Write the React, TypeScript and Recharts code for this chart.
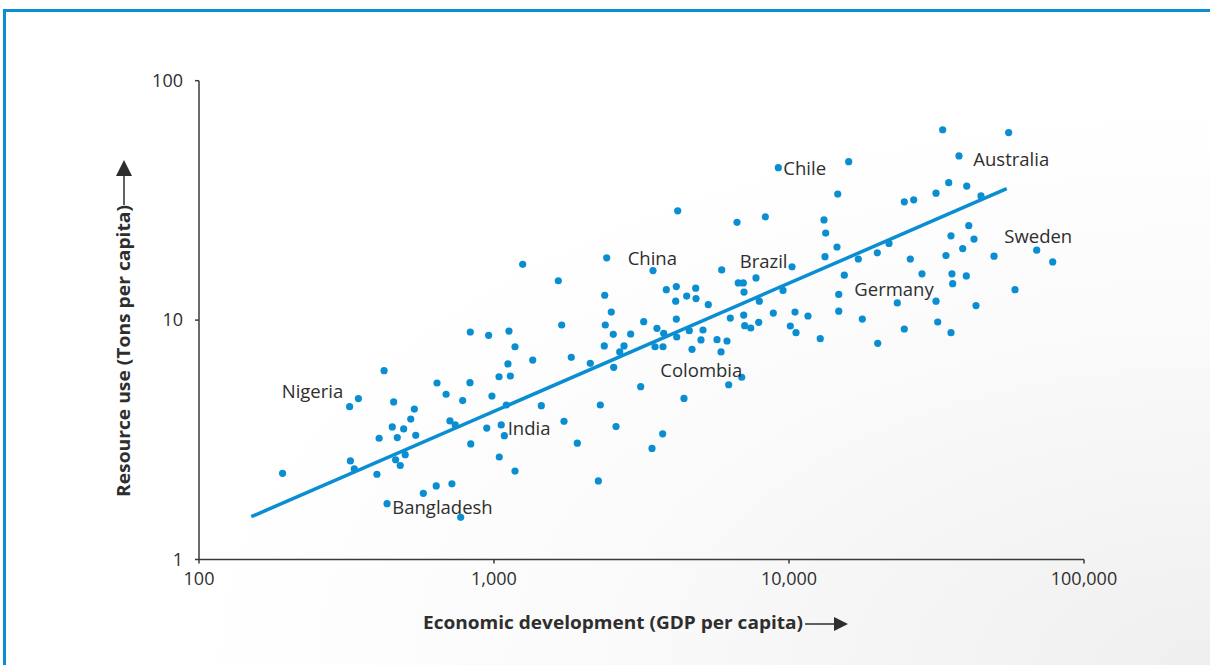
import React from "react";
import { ScatterChart, Scatter, XAxis, YAxis } from "recharts";

// GDP per capita (US$) of each country
const gdp: number[] = [
  192, 324, 347, 424, 326, 336, 401, 408, 457, 452,
  470, 494, 522, 537, 543, 464, 481, 500, 434, 576,
  637, 720, 771, 641, 688, 709, 739, 783, 829, 831,
  834, 959, 1124, 1178, 1115, 1040, 1136, 984, 1101, 945,
  1058, 1084, 1042, 1178, 1353, 1447, 1696, 1828, 1727, 1916,
  4195, 1251, 1652, 2410, 3459, 2373, 2498, 2384, 2537, 2365,
  2759, 2668, 2906, 3217, 3568, 3761, 3514, 3740, 3838, 4150,
  4499, 4828, 4839, 4130, 5326, 4150, 4163, 4592, 5110, 5031,
  4691, 5701, 6164, 5883, 5915, 6664, 8311, 6731, 7000, 7729,
  7039, 7931, 6324, 7021, 7076, 7418, 7895, 9544, 8847, 10237,
  10479, 10102, 10561, 11597, 12765, 14628, 13140, 13316, 13243, 14547,
  17177, 15397, 14743, 14743, 17722, 19922, 19985, 6914, 6246, 4406,
  3142, 2293, 2592, 3731, 3432, 2258, 2120, 2545, 9200, 15937,
  33189, 55541, 37691, 34783, 40036, 31505, 24594, 26468, 44754, 40671,
  35410, 42380, 38804, 34048, 49546, 69136, 78325, 25777, 21827, 28236,
  23287, 31505, 35680, 35877, 39905, 43047, 31928, 35410, 24594, 58353,
];

// Resource use (tons per capita) of each country
const resource: number[] = [
  2.29, 4.35, 4.70, 6.15, 2.58, 2.39, 2.27, 3.21, 4.55, 3.58,
  3.23, 3.51, 3.86, 4.25, 3.30, 2.61, 2.47, 2.74, 1.71, 1.89,
  2.03, 2.07, 1.50, 5.46, 4.90, 3.79, 3.65, 4.61, 5.48, 8.92,
  3.04, 8.64, 9.00, 7.74, 6.56, 5.80, 5.84, 4.82, 4.42, 3.54,
  3.65, 3.29, 2.68, 2.34, 6.81, 4.39, 9.54, 6.99, 3.78, 3.06,
  28.6, 17.1, 14.6, 18.2, 16.1, 12.7, 10.8, 9.54, 8.72, 7.80,
  7.80, 7.36, 8.75, 9.85, 9.24, 8.81, 7.74, 7.74, 13.4, 13.8,
  12.6, 13.6, 12.3, 12.0, 11.6, 10.1, 8.50, 9.03, 9.09, 8.26,
  7.55, 8.28, 8.18, 7.36, 16.2, 25.6, 27.0, 14.3, 14.3, 15.0,
  13.1, 12.0, 10.2, 10.5, 9.48, 9.27, 9.79, 13.3, 10.7, 16.7,
  10.8, 9.45, 8.86, 10.4, 8.36, 33.6, 26.2, 23.1, 18.4, 20.2,
  18.0, 15.4, 12.8, 10.9, 10.1, 19.1, 8.00, 5.77, 5.37, 4.71,
  5.27, 4.42, 3.59, 3.35, 2.91, 2.13, 6.60, 6.35, 43.3, 45.9,
  62.4, 60.7, 48.5, 37.5, 36.3, 33.9, 31.2, 31.8, 33.0, 24.8,
  22.5, 21.8, 19.9, 18.6, 18.5, 19.6, 17.5, 18.0, 20.9, 15.6,
  11.8, 12.0, 15.6, 14.2, 15.3, 11.5, 9.82, 8.86, 9.18, 13.4,
];

// Trend line end points
const fitGdp: number[] = [150.4, 54700];
const fitResource: number[] = [1.509, 35.39];

// Country annotations
const labelNames: string[] = ["Nigeria", "India", "Bangladesh", "China", "Colombia", "Brazil", "Chile", "Australia", "Sweden", "Germany"];
const labelGdp: number[] = [190.7, 1113, 452, 2839, 3662, 6806, 9566, 42150, 53670, 16650];
const labelResource: number[] = [5.02, 3.53, 1.646, 18.0, 6.15, 17.54, 43.07, 46.96, 22.3, 13.36];

const xTicks: number[] = [100, 1000, 10000, 100000];
const yTicks: number[] = [1, 10, 100];

const points = gdp.map((x, i) => ({ x, y: resource[i] }));
const fit = fitGdp.map((x, i) => ({ x, y: fitResource[i] }));
const labels = labelNames.map((name, i) => ({ x: labelGdp[i], y: labelResource[i], name }));

const BLUE = "#0a8ed2";
const AXIS = "#3a3a3a";
const TEXT = "#2e2e2e";
const FONT = "'Open Sans', 'Noto Sans', sans-serif";

const fmt = (v: number) => v.toLocaleString("en-US");

const Dot = (p: any) => <circle cx={p.cx} cy={p.cy} r={3.6} fill={BLUE} />;
const Empty = () => <g />;
const Label = (p: any) => (
  <text x={p.cx} y={p.cy} dy="0.35em" fontSize={18.5} fill={TEXT} fontFamily={FONT}>
    {p.payload.name}
  </text>
);

export default function App() {
  return (
    <div
      style={{
        position: "absolute",
        left: 0,
        top: 0,
        width: 1210,
        height: 665,
        overflow: "hidden",
        background: "radial-gradient(ellipse at 100% 100%, #efefef 0%, #fafafa 35%, #ffffff 60%)",
        fontFamily: FONT,
      }}
    >
      <div style={{ position: "absolute", left: 3, top: 9, width: 1207, height: 3, background: BLUE }} />
      <div style={{ position: "absolute", left: 3, top: 9, width: 3, height: 656, background: BLUE }} />
      <div style={{ position: "absolute", left: 0, top: 0 }}>
        <ScatterChart width={1210} height={665} margin={{ top: 80.7, right: 126, bottom: 75.5, left: 139 }}>
          <XAxis
            type="number"
            dataKey="x"
            scale="log"
            domain={[100, 100000]}
            ticks={xTicks}
            tickFormatter={fmt}
            allowDataOverflow
            height={30}
            stroke={AXIS}
            strokeWidth={1.5}
            tickSize={4}
            tickMargin={9}
            tick={{ fill: TEXT, fontSize: 18, fontFamily: FONT }}
          />
          <YAxis
            type="number"
            dataKey="y"
            scale="log"
            domain={[1, 100]}
            ticks={yTicks}
            tickFormatter={fmt}
            allowDataOverflow
            width={60}
            stroke={AXIS}
            strokeWidth={1.5}
            tickSize={4}
            tickMargin={12}
            tick={{ fill: TEXT, fontSize: 18, fontFamily: FONT }}
          />
          <Scatter data={fit} line={{ stroke: BLUE, strokeWidth: 3.5 }} shape={Empty} isAnimationActive={false} />
          <Scatter data={points} shape={Dot} isAnimationActive={false} />
          <Scatter data={labels} shape={Label} isAnimationActive={false} />
        </ScatterChart>
      </div>
      <svg width={1210} height={665} style={{ position: "absolute", left: 0, top: 0, pointerEvents: "none" }}>
        <text
          x={423}
          y={623}
          dy="0.35em"
          fontSize={17.5}
          fontWeight={700}
          fill={TEXT}
          fontFamily={FONT}
          textLength={380}
          lengthAdjust="spacingAndGlyphs"
        >
          Economic development (GDP per capita)
        </text>
        <line x1={805} y1={624} x2={836} y2={624} stroke={TEXT} strokeWidth={1.5} />
        <polygon points="834,617 848,624 834,631" fill={TEXT} />
        <text
          transform="translate(124,497) rotate(-90)"
          x={0}
          y={0}
          dy="0.35em"
          fontSize={17.5}
          fontWeight={700}
          fill={TEXT}
          fontFamily={FONT}
          textLength={292}
          lengthAdjust="spacingAndGlyphs"
        >
          Resource use (Tons per capita)
        </text>
        <line x1={124} y1={205} x2={124} y2={174} stroke={TEXT} strokeWidth={1.5} />
        <polygon points="116,176 124,160 132,176" fill={TEXT} />
      </svg>
    </div>
  );
}
